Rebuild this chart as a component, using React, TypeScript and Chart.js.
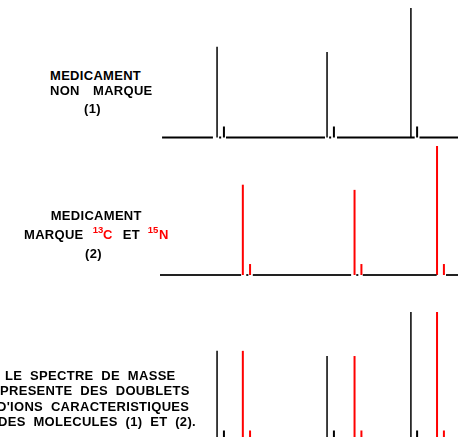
import React, { useEffect, useRef } from "react";
import { Chart, registerables } from "chart.js";

Chart.register(...registerables);

// ---- data (positions on an arbitrary m/z axis, intensities in % of the base peak) ----
const X_MIN = 171.7;
const X_MAX = 215.05;

const UNLABELED_MAIN_MZ = [180, 196, 208.2];
const UNLABELED_MAIN_INT = [70, 66, 100];
const UNLABELED_ISO_MZ = [181, 197, 209.1];
const UNLABELED_ISO_INT = [8.5, 8.5, 8.5];

const LABELED_MAIN_MZ = [183.75, 200, 212];
const LABELED_MAIN_INT = [70, 66, 100];
const LABELED_ISO_MZ = [184.8, 201, 213];
const LABELED_ISO_INT = [8.5, 8.5, 8.5];

// baseline pieces [from, to] (the baseline is broken at the foot of each doublet)
const BASELINE_1 = [
  [172, 179.4],
  [180.3, 180.6],
  [181.3, 195.7],
  [196.3, 196.6],
  [197.45, 208.75],
  [209.45, 215.05],
];
const BASELINE_2 = [
  [171.7, 183.5],
  [184.25, 184.55],
  [185.2, 199.5],
  [200.25, 200.55],
  [201.2, 211.95],
  [213.3, 215.05],
];

const BLACK = "#000000";
const RED = "#ff0000";

type DS = any;

function peakSets(mz: number[], ints: number[], color: string, width: number): DS[] {
  return mz.map((m, i) => ({
    data: [
      { x: m, y: 0 },
      { x: m, y: ints[i] },
    ],
    showLine: true,
    borderColor: color,
    borderWidth: width,
    borderCapStyle: "butt",
    pointRadius: 0,
    clip: false,
  }));
}

function baselineSets(pieces: number[][], color: string): DS[] {
  return pieces.map(([a, b]) => ({
    data: [
      { x: a, y: 0 },
      { x: b, y: 0 },
    ],
    showLine: true,
    borderColor: color,
    borderWidth: 2,
    borderCapStyle: "butt",
    pointRadius: 0,
    clip: false,
  }));
}

function Spectrum(props: { top: number; height: number; padTop: number; padBottom: number; datasets: DS[] }) {
  const ref = useRef<HTMLCanvasElement | null>(null);
  useEffect(() => {
    const chart = new Chart(ref.current as HTMLCanvasElement, {
      type: "scatter",
      data: { datasets: props.datasets },
      options: {
        animation: false,
        responsive: false,
        maintainAspectRatio: false,
        events: [],
        layout: { padding: { top: props.padTop, bottom: props.padBottom, left: 0, right: 0 } },
        plugins: { legend: { display: false }, tooltip: { enabled: false }, title: { display: false } },
        scales: {
          x: { type: "linear", min: X_MIN, max: X_MAX, display: false },
          y: { type: "linear", min: 0, max: 100, display: false },
        },
      } as any,
    });
    return () => chart.destroy();
  }, []);
  return (
    <canvas
      ref={ref}
      width={298}
      height={props.height}
      style={{ position: "absolute", left: 160, top: props.top, width: 298, height: props.height }}
    />
  );
}

const FONT = 'Arial, "Liberation Sans", Helvetica, sans-serif';

function T(props: { x: number; y: number; text: string; color?: string; size?: number; ls?: number }) {
  const size = props.size ?? 13;
  return (
    <div
      style={{
        position: "absolute",
        left: props.x,
        top: props.y,
        fontFamily: FONT,
        fontWeight: "bold",
        fontSize: size,
        lineHeight: size + "px",
        letterSpacing: (props.ls ?? 0.3) + "px",
        whiteSpace: "pre",
        color: props.color ?? BLACK,
      }}
    >
      {props.text}
    </div>
  );
}

export default function App() {
  const panel1 = [
    ...baselineSets(BASELINE_1, BLACK),
    ...peakSets(UNLABELED_MAIN_MZ, UNLABELED_MAIN_INT, BLACK, 1.5),
    ...peakSets(UNLABELED_ISO_MZ, UNLABELED_ISO_INT, BLACK, 2),
  ];
  const panel2 = [
    ...baselineSets(BASELINE_2, "#222222"),
    ...peakSets(LABELED_MAIN_MZ, LABELED_MAIN_INT, RED, 2),
    ...peakSets(LABELED_ISO_MZ, LABELED_ISO_INT, RED, 2),
  ];
  const panel3 = [
    ...peakSets(UNLABELED_MAIN_MZ, UNLABELED_MAIN_INT, BLACK, 1.5),
    ...peakSets(UNLABELED_ISO_MZ, UNLABELED_ISO_INT, BLACK, 2),
    ...peakSets(LABELED_MAIN_MZ, LABELED_MAIN_INT, RED, 2),
    ...peakSets(LABELED_ISO_MZ, LABELED_ISO_INT, RED, 2),
  ];

  return (
    <div
      style={{
        position: "fixed",
        left: 0,
        top: 0,
        width: 458,
        height: 437,
        overflow: "hidden",
        background: "#ffffff",
      }}
    >
      <Spectrum top={0} height={150} padTop={8} padBottom={12.5} datasets={panel1} />
      <Spectrum top={140} height={150} padTop={6} padBottom={15} datasets={panel2} />
      <Spectrum top={300} height={150} padTop={12} padBottom={8.5} datasets={panel3} />

      {/* panel 1 label */}
      <T x={50} y={68.7} text="MEDICAMENT" />
      <T x={50} y={83.7} text="NON" />
      <T x={93} y={83.7} text="MARQUE" />
      <T x={84} y={101.5} text="(1)" />

      {/* panel 2 label */}
      <T x={50.7} y={209} text="MEDICAMENT" />
      <T x={24} y={228.3} text="MARQUE" />
      <T x={92.7} y={224.8} text="13" size={9.5} ls={0} color={RED} />
      <T x={103} y={228.3} text="C" color={RED} />
      <T x={122.7} y={228.3} text="ET" />
      <T x={147.7} y={224.8} text="15" size={9.5} ls={0} color={RED} />
      <T x={159} y={228.3} text="N" color={RED} />
      <T x={85} y={246.5} text="(2)" />

      {/* panel 3 text */}
      <T x={5} y={369} text="LE  SPECTRE  DE  MASSE" />
      <T x={0} y={384.3} text="PRESENTE  DES  DOUBLETS" />
      <T x={-3} y={399.7} text="D'IONS  CARACTERISTIQUES" />
      <T x={-2} y={415.3} text="DES  MOLECULES  (1)  ET  (2)." />
    </div>
  );
}
